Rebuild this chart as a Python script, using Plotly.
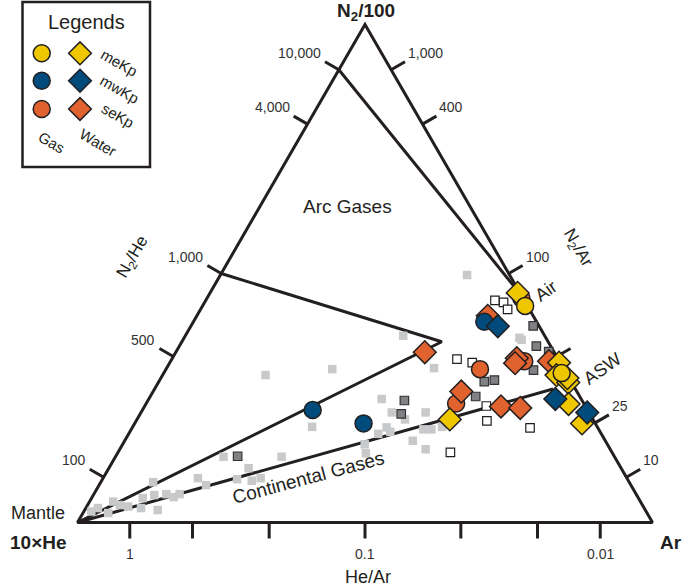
import math
import plotly.graph_objects as go

# ---------------- data: ternary components in % (N2/100, 10*He, Ar) ----------------
meKp_gas = [(43.5, 0.4, 56.1), (30.0, 0.8, 69.2)]
meKp_water = [(46.1, 0.4, 53.5), (32.1, 0.2, 67.7), (29.6, 1.9, 68.5), (28.1, 0.6, 71.3),
              (29.0, 0.3, 70.7), (23.8, 2.7, 73.5), (19.9, 2.3, 77.8), (20.7, 24.9, 54.4)]
mwKp_gas = [(40.3, 9.1, 50.6), (22.6, 47.8, 29.6), (19.9, 40.3, 39.8)]
mwKp_water = [(39.4, 7.2, 53.4), (24.8, 4.5, 70.7), (22.1, 0.3, 77.6)]
seKp_gas = [(45.0, 0.3, 54.7), (30.8, 14.6, 54.6), (23.9, 22.2, 53.9), (32.4, 6.1, 61.5)]
seKp_water = [(41.5, 7.9, 50.6), (34.2, 22.5, 43.3), (26.3, 20.1, 53.6), (33.0, 7.1, 59.9),
              (32.0, 7.9, 60.1), (32.4, 1.8, 65.8), (23.3, 14.7, 62.0), (23.0, 11.5, 65.5)]

ref_light = [(49.7, 7.4, 42.9), (37.1, 4.6, 58.3), (36.7, 4.4, 58.9), (37.5, 24.6, 37.9),
             (31.0, 22.5, 46.5), (30.8, 40.3, 28.9), (29.6, 52.5, 17.9), (24.8, 34.7, 40.5),
             (22.1, 34.3, 43.6), (22.1, 28.4, 49.5), (20.7, 32.7, 46.6), (19.2, 49.6, 31.2),
             (19.1, 36.7, 44.2), (17.8, 38.8, 43.4), (18.2, 36.5, 45.3), (18.7, 29.1, 52.2),
             (18.7, 30.5, 50.8), (19.2, 27.0, 53.8), (16.4, 33.5, 50.1), (15.7, 42.2, 42.1),
             (13.9, 42.9, 43.2), (14.7, 32.1, 53.2), (13.2, 68.0, 18.8), (13.2, 57.9, 28.9),
             (10.9, 64.8, 24.3), (8.9, 74.6, 16.5), (7.5, 73.9, 18.6), (8.7, 67.9, 23.4),
             (8.4, 65.5, 26.1), (8.9, 63.7, 27.4), (8.1, 82.8, 9.1), (4.9, 86.2, 8.9),
             (5.5, 83.9, 10.6), (5.7, 81.7, 12.6), (5.7, 79.4, 14.9), (5.1, 80.7, 14.2),
             (2.5, 84.8, 12.7), (4.2, 91.7, 4.1), (2.9, 95.0, 2.1), (3.2, 89.6, 7.2),
             (3.5, 90.9, 5.6), (2.9, 87.5, 9.6), (1.9, 93.7, 4.4), (2.2, 96.5, 1.3)]
ref_dark = [(13.3, 65.5, 21.2), (24.5, 30.9, 44.6), (21.8, 32.8, 45.4), (28.3, 15.1, 56.6),
            (28.6, 13.2, 58.2), (25.3, 18.1, 56.6), (39.5, 1.0, 59.5), (35.4, 2.5, 62.1),
            (34.3, 0.9, 64.8), (30.6, 5.4, 64.0)]
ref_open = [(44.6, 5.1, 50.3), (44.2, 3.8, 52.0), (42.8, 3.8, 53.4), (32.8, 17.6, 49.6),
            (32.1, 15.3, 52.6), (23.4, 17.2, 59.4), (20.4, 18.6, 61.0), (19.0, 11.8, 69.2),
            (14.1, 28.1, 57.8)]

# ratio ticks on the three sides
N2He_ticks = [10000, 4000, 1000, 500, 100]
N2He_labels = ["10,000", "4,000", "1,000", "500", "100"]
N2Ar_ticks = [1000, 400, 100, 50, 25, 10]
N2Ar_labels = ["1,000", "400", "100", "", "25", "10"]
HeAr_ticks = [1, 0.4, 0.2, 0.1, 0.05, 0.025, 0.01]
HeAr_labels = ["1", "", "", "0.1", "", "", "0.01"]

# field boundaries (ratios)
arc_N2He_start = 1000
arc_apex = (36.3, 18.5, 45.2)
air_N2He_start = 10000
air_N2Ar = 84
continental_end = (26.8, 3.9, 69.3)
mantle = (0.0, 100.0, 0.0)

# ---------------- styles ----------------
INK = "#231F20"
YELLOW = "#EFC700"
BLUE = "#004B7C"
ORANGE = "#E0622F"
FONT = "Liberation Sans, Arial, sans-serif"
W, H = 685, 586
SCALE = 575.0          # px per ternary unit
X0, Y0 = 77.5, 522.5    # pixel of the 10xHe vertex
S3 = math.sqrt(3) / 2


def to_xy(p):
    a, b, c = p
    s = a + b + c
    a, c = a / s, c / s
    return c + a / 2, a * S3


def xy_list(pts):
    xs, ys = [], []
    for p in pts:
        if p is None:
            xs.append(None); ys.append(None)
        else:
            x, y = to_xy(p)
            xs.append(x); ys.append(y)
    return xs, ys


def edge_point(side, r):
    if side == "left":
        a = r / (r + 1000.0)
        return (a, 1 - a, 0.0)
    if side == "right":
        a = r / (r + 100.0)
        return (a, 0.0, 1 - a)
    b = 10 * r / (1 + 10.0 * r)
    return (0.0, b, 1 - b)


NORMAL = {"left": (-S3, 0.5), "right": (S3, 0.5), "bottom": (0.0, -1.0)}
TICK = 16.0 / SCALE


def px2paper(x, y):
    return x / W, 1 - y / H


fig = go.Figure()

# triangle outline
tri = [(100, 0, 0), (0, 100, 0), (0, 0, 100), (100, 0, 0), (0, 100, 0)]
tx, ty = xy_list(tri)
fig.add_trace(go.Scatter(x=tx, y=ty, mode="lines", line=dict(color=INK, width=3),
                         hoverinfo="skip", showlegend=False))

# ticks
tick_x, tick_y = [], []
labels = []
for side, vals, labs in (("left", N2He_ticks, N2He_labels),
                         ("right", N2Ar_ticks, N2Ar_labels),
                         ("bottom", HeAr_ticks, HeAr_labels)):
    nx, ny = NORMAL[side]
    for r, lab in zip(vals, labs):
        x, y = to_xy(edge_point(side, r))
        ex, ey = x + nx * TICK, y + ny * TICK
        tick_x += [x, ex, None]
        tick_y += [y, ey, None]
        if lab:
            labels.append((side, lab, ex, ey))
fig.add_trace(go.Scatter(x=tick_x, y=tick_y, mode="lines", line=dict(color=INK, width=3),
                         hoverinfo="skip", showlegend=False))

# field boundary lines
arc_line = [tuple(100 * v for v in edge_point("left", arc_N2He_start)), arc_apex, mantle]
air_line = [tuple(100 * v for v in edge_point("left", air_N2He_start)),
            tuple(100 * v for v in edge_point("right", air_N2Ar))]
cont_line = [mantle, continental_end]
for ln in (arc_line, air_line, cont_line):
    lx, ly = xy_list(ln)
    fig.add_trace(go.Scatter(x=lx, y=ly, mode="lines", line=dict(color=INK, width=3),
                             hoverinfo="skip", showlegend=False))


def add_points(pts, symbol, size, color, lcolor, lwidth, name):
    xs, ys = xy_list(pts)
    fig.add_trace(go.Scatter(x=xs, y=ys, mode="markers", name=name, showlegend=False,
                             cliponaxis=False,
                             marker=dict(symbol=symbol, size=size, color=color,
                                         line=dict(color=lcolor, width=lwidth))))


add_points(ref_light, "square", 8.5, "#C8C9CA", "#C8C9CA", 0, "light")
add_points(ref_dark, "square", 8.5, "#808184", "#333333", 1.2, "dark")
add_points(ref_open, "square", 8.5, "white", INK, 1.2, "open")
add_points(seKp_gas, "circle", 17, ORANGE, INK, 1.5, "seKp gas")
add_points(seKp_water, "diamond", 17.5, ORANGE, INK, 1.5, "seKp water")
add_points(meKp_water, "diamond", 17.5, YELLOW, INK, 1.5, "meKp water")
add_points(meKp_gas, "circle", 17, YELLOW, INK, 1.5, "meKp gas")
add_points(mwKp_gas, "circle", 17, BLUE, INK, 1.5, "mwKp gas")
add_points(mwKp_water, "diamond", 17.5, BLUE, INK, 1.5, "mwKp water")

annotations = []
# tick labels
for side, lab, ex, ey in labels:
    if side == "left":
        annotations.append(dict(x=ex, y=ey, xref="x", yref="y", text=lab, showarrow=False,
                                xanchor="right", yanchor="bottom", xshift=-2, yshift=-1,
                                font=dict(size=14, color="#333333", family=FONT)))
    elif side == "right":
        annotations.append(dict(x=ex, y=ey, xref="x", yref="y", text=lab, showarrow=False,
                                xanchor="left", yanchor="bottom", xshift=1, yshift=-1,
                                font=dict(size=14, color="#333333", family=FONT)))
    else:
        annotations.append(dict(x=ex, y=ey, xref="x", yref="y", text=lab, showarrow=False,
                                xanchor="center", yanchor="top", yshift=-5,
                                font=dict(size=14, color="#333333", family=FONT)))

# text labels (pixel positions)
text_items = [
    ("<b>N<sub>2</sub>/100</b>", 366, 12, 19, 0),
    ("<b>10×He</b>", 38, 542, 19, 0),
    ("<b>Ar</b>", 671, 542, 19, 0),
    ("Mantle", 38, 513, 18, 0),
    ("He/Ar", 368, 577, 18, 0),
    ("N<sub>2</sub>/He", 133, 258, 17, -60),
    ("N<sub>2</sub>/Ar", 577, 248, 17, 60),
    ("Arc Gases", 348, 206, 19, 0),
    ("Continental Gases", 308, 477, 19, -15),
    ("Air", 546, 291, 18, -35),
    ("ASW", 602, 369, 18, -35),
    ("Legends", 86, 22, 20, 0),
    ("meKp", 119, 62, 15, 30),
    ("mwKp", 120, 89, 15, 30),
    ("seKp", 118, 115, 15, 30),
    ("Gas", 52, 142, 15, 30),
    ("Water", 98, 143, 15, 30),
]
for txt, x, y, sz, ang in text_items:
    xp, yp = px2paper(x, y)
    annotations.append(dict(x=xp, y=yp, xref="paper", yref="paper", text=txt, showarrow=False,
                            xanchor="center", yanchor="middle", textangle=ang,
                            font=dict(size=sz, color=INK, family=FONT)))

# legend box and glyphs (pixel layout of the key)
legend_cols = {"Gas": (41.7, "circle", 17), "Water": (80.0, "diamond", 17.5)}
legend_rows = [(53.3, YELLOW), (80.7, BLUE), (109.0, ORANGE)]
for kind, (lx, sym, sz) in legend_cols.items():
    gx, gy = [], []
    for ry, col in legend_rows:
        xp, yp = px2paper(lx, ry)
        gx.append(xp); gy.append(yp)
    fig.add_trace(go.Scatter(x=gx, y=gy, xaxis="x2", yaxis="y2", mode="markers",
                             showlegend=False, hoverinfo="skip", cliponaxis=False,
                             marker=dict(symbol=sym, size=sz,
                                         color=[c for _, c in legend_rows],
                                         line=dict(color=INK, width=1.5))))

bx0, by0 = px2paper(22.5, 2)
bx1, by1 = px2paper(150, 167)
shapes = [dict(type="rect", xref="paper", yref="paper", x0=bx0, y0=by1, x1=bx1, y1=by0,
               line=dict(color=INK, width=2.5), fillcolor="rgba(0,0,0,0)", layer="below")]

xr = [-X0 / SCALE, (W - X0) / SCALE]
yr = [-(H - Y0) / SCALE, Y0 / SCALE]
fig.update_layout(
    width=W, height=H,
    margin=dict(l=0, r=0, t=0, b=0),
    paper_bgcolor="white", plot_bgcolor="white",
    xaxis=dict(range=xr, visible=False, domain=[0, 1], fixedrange=True),
    yaxis=dict(range=yr, visible=False, domain=[0, 1], fixedrange=True),
    xaxis2=dict(range=[0, 1], visible=False, domain=[0, 1], overlaying="x"),
    yaxis2=dict(range=[0, 1], visible=False, domain=[0, 1], overlaying="y"),
    annotations=annotations,
    shapes=shapes,
    showlegend=False,
)

fig.write_html("out.html", config={"displayModeBar": False},
               post_script="document.body.style.margin='0px';document.body.style.overflow='hidden';")
